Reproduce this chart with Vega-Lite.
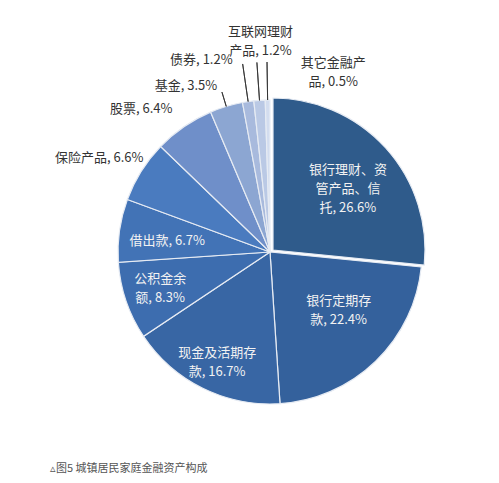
{
  "$schema": "https://vega.github.io/schema/vega-lite/v6.json",
  "autosize": "none",
  "width": 458,
  "height": 462,
  "padding": {"left": 41, "top": 21, "right": 0, "bottom": 0},
  "background": "white",
  "config": {"view": {"stroke": null}, "font": "Noto Sans CJK SC"},
  "title": {
    "text": "▵图5 城镇居民家庭金融资产构成",
    "orient": "bottom",
    "anchor": "start",
    "frame": "group",
    "offset": -20,
    "dx": 9,
    "fontSize": 11,
    "fontWeight": "normal",
    "color": "#555555",
    "font": "Noto Sans CJK SC"
  },
  "data": {
    "values": [
      {"rank": 1, "name": "银行理财、资管产品、信托", "value": 26.6, "label": "银行理财、资\n管产品、信\n托, 26.6%"},
      {"rank": 2, "name": "银行定期存款", "value": 22.4, "label": "银行定期存\n款, 22.4%"},
      {"rank": 3, "name": "现金及活期存款", "value": 16.7, "label": "现金及活期存\n款, 16.7%"},
      {"rank": 4, "name": "公积金余额", "value": 8.3, "label": "公积金余\n额, 8.3%"},
      {"rank": 5, "name": "借出款", "value": 6.7, "label": "借出款, 6.7%"},
      {"rank": 6, "name": "保险产品", "value": 6.6, "label": "保险产品, 6.6%"},
      {"rank": 7, "name": "股票", "value": 6.4, "label": "股票, 6.4%"},
      {"rank": 8, "name": "基金", "value": 3.5, "label": "基金, 3.5%"},
      {"rank": 9, "name": "债券", "value": 1.2, "label": "债券, 1.2%"},
      {"rank": 10, "name": "互联网理财产品", "value": 1.2, "label": "互联网理财\n产品, 1.2%"},
      {"rank": 11, "name": "其它金融产品", "value": 0.5, "label": "其它金融产\n品, 0.5%"}
    ]
  },
  "encoding": {
    "theta": {"field": "value", "type": "quantitative", "stack": true},
    "order": {"field": "rank", "type": "quantitative"}
  },
  "layer": [
    {
      "mark": {"type": "arc", "radius": 152, "stroke": "#e6ebf3", "strokeWidth": 1.2},
      "encoding": {
        "color": {
          "field": "name", "type": "nominal", "legend": null,
          "scale": {
            "domain": ["银行理财、资管产品、信托", "银行定期存款", "现金及活期存款", "公积金余额", "借出款", "保险产品", "股票", "基金", "债券", "互联网理财产品", "其它金融产品"],
            "range": ["#2f5b8b", "#34619c", "#3866a4", "#3d6daf", "#4273b6", "#4a7bbf", "#6f8fc9", "#8ca6d2", "#a8badd", "#bac9e5", "#d3ddef"]
          }
        },
        "opacity": {"condition": {"test": "datum.rank === 1", "value": 0}, "value": 1}
      }
    },
    {
      "mark": {"type": "arc", "radius": 152, "stroke": "#e6ebf3", "strokeWidth": 1.2, "xOffset": 3, "yOffset": -2},
      "encoding": {
        "color": {"field": "name", "type": "nominal", "legend": null},
        "opacity": {"condition": {"test": "datum.rank === 1", "value": 1}, "value": 0}
      }
    },
    {
      "mark": {"type": "arc", "radius": 167, "radius2": 152, "padAngle": 3, "fill": null, "stroke": "#333333", "strokeWidth": 0.9},
      "encoding": {
        "opacity": {"condition": {"test": "datum.rank === 8", "value": 1}, "value": 0}
      }
    },
    {
      "mark": {"type": "arc", "radius": 190, "radius2": 152, "padAngle": 3, "fill": null, "stroke": "#333333", "strokeWidth": 0.9},
      "encoding": {
        "opacity": {"condition": {"test": "datum.rank >= 9", "value": 1}, "value": 0}
      }
    },
    {
      "mark": {"type": "text", "radius": 93, "dx": 9, "dy": -20, "fontSize": 13, "lineBreak": "\n", "lineHeight": 19, "color": "#f2f2f2"},
      "encoding": {
        "text": {"condition": {"test": "datum.rank === 1", "field": "label"}, "value": ""}
      }
    },
    {
      "mark": {"type": "text", "radius": 93, "dx": 4, "dy": -18, "fontSize": 13, "lineBreak": "\n", "lineHeight": 19, "color": "#f2f2f2"},
      "encoding": {
        "text": {"condition": {"test": "datum.rank === 2", "field": "label"}, "value": ""}
      }
    },
    {
      "mark": {"type": "text", "radius": 115, "dx": -2, "dy": -2, "fontSize": 13, "lineBreak": "\n", "lineHeight": 19, "color": "#f2f2f2"},
      "encoding": {
        "text": {"condition": {"test": "datum.rank === 3", "field": "label"}, "value": ""}
      }
    },
    {
      "mark": {"type": "text", "radius": 115, "dx": -1, "dy": -10, "fontSize": 13, "lineBreak": "\n", "lineHeight": 19, "color": "#f2f2f2"},
      "encoding": {
        "text": {"condition": {"test": "datum.rank === 4", "field": "label"}, "value": ""}
      }
    },
    {
      "mark": {"type": "text", "radius": 115, "dx": 11, "dy": 5, "fontSize": 13, "color": "#f2f2f2"},
      "encoding": {
        "text": {"condition": {"test": "datum.rank === 5", "field": "label"}, "value": ""}
      }
    },
    {
      "mark": {"type": "text", "radius": 185, "dx": -14, "dy": 4, "fontSize": 13, "color": "#333333"},
      "encoding": {
        "text": {"condition": {"test": "datum.rank === 6", "field": "label"}, "value": ""}
      }
    },
    {
      "mark": {"type": "text", "radius": 172, "align": "right", "dy": -1, "fontSize": 13, "color": "#333333"},
      "encoding": {
        "text": {"condition": {"test": "datum.rank === 7", "field": "label"}, "value": ""}
      }
    },
    {
      "mark": {"type": "text", "radius": 173, "align": "right", "dx": -3, "fontSize": 13, "color": "#333333"},
      "encoding": {
        "text": {"condition": {"test": "datum.rank === 8", "field": "label"}, "value": ""}
      }
    },
    {
      "mark": {"type": "text", "radius": 190, "align": "right", "dx": -10, "dy": -4, "fontSize": 13, "color": "#333333"},
      "encoding": {
        "text": {"condition": {"test": "datum.rank === 9", "field": "label"}, "value": ""}
      }
    },
    {
      "mark": {"type": "text", "radius": 211, "dx": 5, "dy": -10, "fontSize": 13, "lineBreak": "\n", "lineHeight": 19, "color": "#333333"},
      "encoding": {
        "text": {"condition": {"test": "datum.rank === 10", "field": "label"}, "value": ""}
      }
    },
    {
      "mark": {"type": "text", "radius": 182, "dx": 66, "dy": -7, "fontSize": 13, "lineBreak": "\n", "lineHeight": 19, "color": "#333333"},
      "encoding": {
        "text": {"condition": {"test": "datum.rank === 11", "field": "label"}, "value": ""}
      }
    }
  ]
}
